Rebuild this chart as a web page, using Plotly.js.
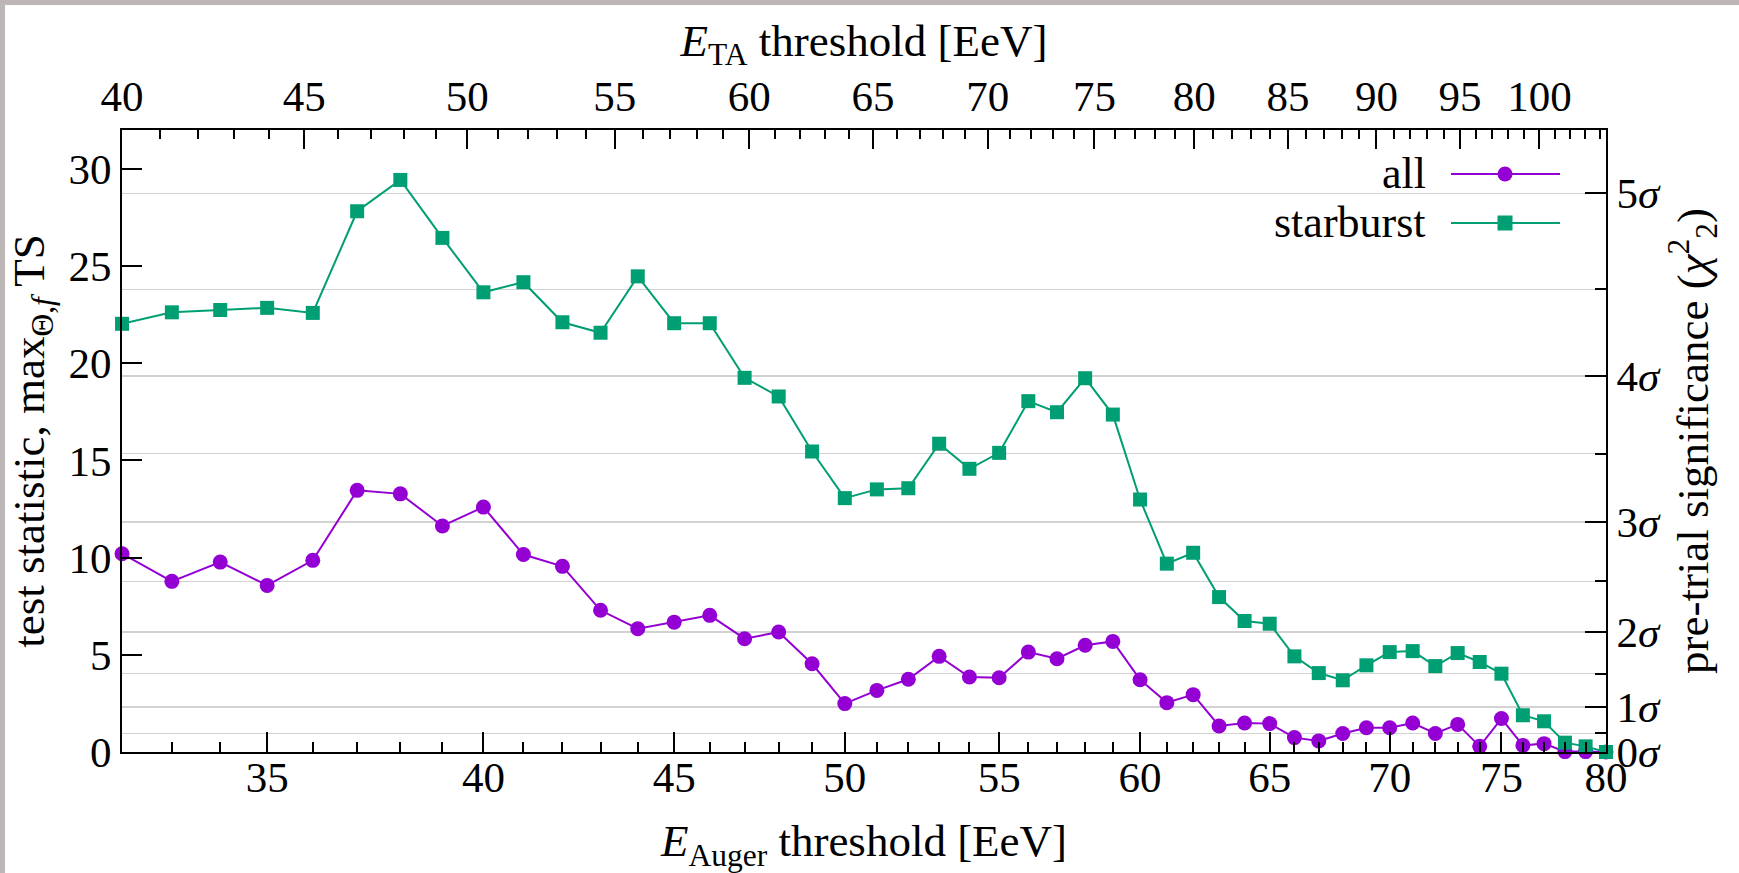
<!DOCTYPE html>
<html>
<head>
<meta charset="utf-8">
<script src="https://cdn.plot.ly/plotly-3.0.1.min.js"></script>
<style>html,body{margin:0;padding:0;background:#fff;}#chart{width:1739px;height:873px;}</style>
</head>
<body>
<div id="chart"></div>
<script>
// ---- data ----
const augerThreshold = [32,33,34,35,36,37,38,39,40,41,42,43,44,45,46,47,48,49,50,51,52,53,54,55,56,57,58,59,60,61,62,63,64,65,66,67,68,69,70,71,72,73,74,75,76,77,78,79,80];
const tsAll = [10.2,8.78,9.77,8.57,9.86,13.46,13.28,11.63,12.6,10.16,9.55,7.29,6.34,6.68,7.03,5.83,6.17,4.54,2.49,3.17,3.74,4.92,3.86,3.82,5.14,4.8,5.49,5.69,3.72,2.54,2.95,1.34,1.49,1.46,0.74,0.57,0.95,1.25,1.25,1.49,0.95,1.42,0.29,1.72,0.34,0.43,0.02,0.02,0.0];
const tsStarburst = [22.03,22.62,22.74,22.85,22.59,27.82,29.43,26.45,23.65,24.17,22.11,21.57,24.47,22.06,22.06,19.25,18.29,15.46,13.06,13.51,13.57,15.86,14.57,15.39,18.05,17.48,19.23,17.36,12.99,9.69,10.25,7.97,6.74,6.6,4.92,4.06,3.69,4.46,5.14,5.19,4.42,5.09,4.63,4.03,1.89,1.58,0.48,0.29,0.0];

const augerTicks = [35,40,45,50,55,60,65,70,75,80];
const augerMinor = [32,33,34,36,37,38,39,41,42,43,44,46,47,48,49,51,52,53,54,56,57,58,59,61,62,63,64,66,67,68,69,71,72,73,74,76,77,78,79];
const taTicks = [40,45,50,55,60,65,70,75,80,85,90,95,100];
const taMinor = [41,42,43,44,46,47,48,49,51,52,53,54,56,57,58,59,61,62,63,64,66,67,68,69,71,72,73,74,76,77,78,79,81,82,83,84,86,87,88,89,91,92,93,94,96,97,98,99,101,102,103,104];
const tsTicks = [0,5,10,15,20,25,30];
const sigmaTS = [0,2.30,6.18,11.83,19.33,28.74];
const sigmaLabels = ['0<i>σ</i>','1<i>σ</i>','2<i>σ</i>','3<i>σ</i>','4<i>σ</i>','5<i>σ</i>'];
const halfSigmaTS = [0.96,4.03,8.78,15.35,23.80];
const seriesNames = ['all','starburst'];
const seriesColors = ['#9400d3','#009e73'];

// ---- layout constants ----
const W = 1739, H = 873;
const M = {l:122, r:133, t:130, b:121};
const PW = W - M.l - M.r, PH = H - M.t - M.b;
const px = X => (X - M.l) / PW;
const py = Y => (H - M.b - Y) / PH;
const FONT = 'Liberation Serif, Times New Roman, serif';
const EPS = 1e-5;

const axisCommon = {
  showline:true, linecolor:'#000', linewidth:2, mirror:false,
  ticks:'inside', tickcolor:'#000', tickwidth:2,
  showgrid:false, zeroline:false,
  tickfont:{family:FONT, size:43, color:'#000'},
  tickmode:'array'
};

const traces = [
  {x:augerThreshold, y:tsAll, name:seriesNames[0], type:'scatter', mode:'lines+markers',
   line:{color:seriesColors[0], width:2}, marker:{symbol:'circle', size:15, color:seriesColors[0]},
   cliponaxis:false, showlegend:false, xaxis:'x', yaxis:'y'},
  {x:augerThreshold, y:tsStarburst, name:seriesNames[1], type:'scatter', mode:'lines+markers',
   line:{color:seriesColors[1], width:2}, marker:{symbol:'square', size:14, color:seriesColors[1]},
   cliponaxis:false, showlegend:false, xaxis:'x', yaxis:'y'},
  // empty carrier so that the secondary (top / right) axes are drawn
  {x:[null], y:[null], type:'scatter', mode:'markers', showlegend:false, hoverinfo:'skip',
   xaxis:'x2', yaxis:'y2'}
];

// legend (gnuplot style: text left, sample right)
const legY = [174, 223];
const legLineX = [1451, 1560], legMarkX = 1505, legTextX = 1428;
const shapes = [
  {type:'rect', xref:'paper', yref:'paper', x0:px(5), x1:px(W+20), y0:py(H+20), y1:py(5),
   fillcolor:'#ffffff', line:{width:0}, layer:'below'},
  {type:'rect', xref:'paper', yref:'paper', x0:px(1225), x1:1, y0:py(250), y1:1,
   fillcolor:'#ffffff', line:{width:0}, layer:'between'}
];
const annotations = [];
seriesNames.forEach((n,i) => {
  shapes.push({type:'line', xref:'paper', yref:'paper', x0:px(legLineX[0]), x1:px(legLineX[1]),
    y0:py(legY[i]), y1:py(legY[i]), line:{color:seriesColors[i], width:2}, layer:'above'});
  shapes.push({type: i===0 ? 'circle' : 'rect', xref:'paper', yref:'paper',
    xsizemode:'pixel', ysizemode:'pixel', xanchor:px(legMarkX), yanchor:py(legY[i]),
    x0:-7.5, x1:7.5, y0:-7.5, y1:7.5, fillcolor:seriesColors[i], line:{width:0}, layer:'above'});
  annotations.push({xref:'paper', yref:'paper', x:px(legTextX), y:py(legY[i]), xanchor:'right', yanchor:'middle',
    text:n, showarrow:false, font:{family:FONT, size:44, color:'#000'}});
});

const layout = {
  width:W, height:H, margin:M,
  paper_bgcolor:'#bdb6b7', plot_bgcolor:'#ffffff',
  showlegend:false,
  xaxis:Object.assign({}, axisCommon, {
    type:'log', range:[Math.log10(32)-EPS, Math.log10(80)+EPS],
    tickvals:augerTicks, ticktext:augerTicks.map(String), ticklen:20, ticklabelstandoff:-14,
    minor:{tickmode:'array', tickvals:augerMinor, ticks:'inside', ticklen:10, tickwidth:2, tickcolor:'#000', showgrid:false},
    title:{text:'<i>E</i><sub>Auger</sub> threshold [EeV]', font:{family:FONT, size:45, color:'#000'}, standoff:25},
    anchor:'y', side:'bottom'
  }),
  xaxis2:Object.assign({}, axisCommon, {
    type:'log', range:[Math.log10(40)-EPS, Math.log10(104.4)],
    tickvals:taTicks, ticktext:taTicks.map(String), ticklen:19,
    minor:{tickmode:'array', tickvals:taMinor, ticks:'inside', ticklen:9, tickwidth:2, tickcolor:'#000', showgrid:false},
    title:{text:'<i>E</i><sub>TA</sub> threshold [EeV]', font:{family:FONT, size:45, color:'#000'}, standoff:2},
    overlaying:'x', anchor:'y', side:'top'
  }),
  yaxis:Object.assign({}, axisCommon, {
    range:[0,32], tickvals:tsTicks, ticktext:tsTicks.map(String), ticklen:20,
    title:{text:'test statistic, max<sub>Θ,<i>f</i></sub> TS', font:{family:FONT, size:45, color:'#000'}, standoff:10},
    anchor:'x', side:'left'
  }),
  yaxis2:Object.assign({}, axisCommon, {
    range:[0,32], tickvals:sigmaTS, ticktext:sigmaLabels, ticklen:21,
    showgrid:true, gridcolor:'#d2d2d2', gridwidth:1.6,
    minor:{tickmode:'array', tickvals:halfSigmaTS, ticks:'inside', ticklen:11, tickwidth:2, tickcolor:'#000',
           showgrid:true, gridcolor:'#d2d2d2', gridwidth:1.6},
    title:{text:'pre-trial significance (<i>χ</i><sup>2</sup><sub>2</sub>)', font:{family:FONT, size:45, color:'#000'}, standoff:12},
    overlaying:'y', anchor:'x', side:'right'
  }),
  shapes:shapes,
  annotations:annotations
};

Plotly.newPlot('chart', traces, layout, {staticPlot:true, displayModeBar:false});
</script>
</body>
</html>
